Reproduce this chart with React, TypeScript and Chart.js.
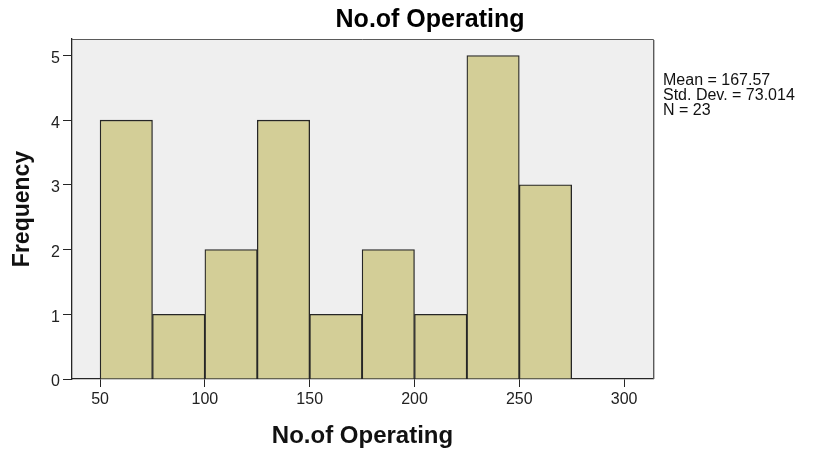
import React, { useEffect, useRef } from "react";
import { Chart, registerables } from "chart.js";

Chart.register(...registerables);

// ---- data ----
const binStarts = [50, 75, 100, 125, 150, 175, 200, 225, 250];
const binWidth = 25;
const frequencies = [4, 1, 2, 4, 1, 2, 1, 5, 3];
const xTicks = [50, 100, 150, 200, 250, 300];
const yTicks = [0, 1, 2, 3, 4, 5];
const statsLines = ["Mean = 167.57", "Std. Dev. = 73.014", "N = 23"];
const chartTitle = "No.of Operating";
const xTitle = "No.of Operating";
const yTitle = "Frequency";

const FONT = "'Liberation Sans', Arial, sans-serif";

const framePlugin = {
  id: "spssFrame",
  beforeDraw(chart: any) {
    const { ctx, chartArea } = chart;
    ctx.save();
    ctx.fillStyle = "#efefef";
    ctx.fillRect(chartArea.left, chartArea.top, chartArea.right - chartArea.left, chartArea.bottom - chartArea.top);
    ctx.restore();
  },
  afterDraw(chart: any) {
    const { ctx, chartArea } = chart;
    ctx.save();
    // top & right frame
    ctx.strokeStyle = "#5a5a5a";
    ctx.lineWidth = 1;
    ctx.beginPath();
    ctx.moveTo(chartArea.left, chartArea.top + 0.5);
    ctx.lineTo(chartArea.right + 0.5, chartArea.top + 0.5);
    ctx.lineTo(chartArea.right + 0.5, chartArea.bottom);
    ctx.stroke();
    ctx.strokeStyle = "#bdbdbd";
    ctx.beginPath();
    ctx.moveTo(chartArea.right + 1.5, chartArea.top + 1);
    ctx.lineTo(chartArea.right + 1.5, chartArea.bottom);
    ctx.stroke();

    // title
    ctx.fillStyle = "#000";
    ctx.font = `bold 25px ${FONT}`;
    ctx.textAlign = "center";
    ctx.textBaseline = "alphabetic";
    ctx.fillText(chartTitle, 430, 27);

    // stats
    ctx.font = `16px ${FONT}`;
    ctx.textAlign = "left";
    ctx.fillStyle = "#111";
    statsLines.forEach((s, i) => {
      ctx.fillText(s, chartArea.right + 10, 85 + i * 15);
    });
    ctx.restore();
  },
};

export default function App() {
  const ref = useRef<HTMLCanvasElement | null>(null);

  useEffect(() => {
    if (!ref.current) return;
    const points = binStarts.map((s, i) => ({ x: s + binWidth / 2, y: frequencies[i] }));
    const chart = new Chart(ref.current, {
      type: "bar",
      data: {
        datasets: [
          {
            data: points as any,
            backgroundColor: "#d3ce97",
            borderColor: "#262626",
            borderWidth: 1.3,
            borderSkipped: "bottom",
            categoryPercentage: 1,
            barPercentage: 1,
          },
        ],
      },
      options: {
        animation: false,
        responsive: true,
        maintainAspectRatio: false,
        layout: { padding: { top: 39, right: 161, left: 0, bottom: 0 } },
        plugins: {
          legend: { display: false },
          title: { display: false },
          tooltip: { enabled: false },
        },
        scales: {
          x: {
            type: "linear",
            min: 36.6,
            max: 313.8,
            offset: false,
            afterBuildTicks: (scale: any) => {
              scale.ticks = xTicks.map((v) => ({ value: v }));
            },
            afterFit: (scale: any) => {
              scale.height = 73;
            },
            grid: {
              display: true,
              offset: false,
              drawOnChartArea: false,
              drawTicks: true,
              tickLength: 8,
              tickColor: "#262626",
              color: "#262626",
            },
            border: { display: true, color: "#262626", width: 1.3 },
            ticks: {
              padding: 3.4,
              color: "#222",
              font: { family: FONT, size: 16 },
              maxRotation: 0,
              autoSkip: false,
            },
            title: {
              display: true,
              text: xTitle,
              color: "#111",
              font: { family: FONT, size: 24, weight: "bold", lineHeight: 1.2 },
              padding: { top: 0, bottom: 1.6 },
            },
          },
          y: {
            type: "linear",
            min: 0,
            max: 5.255,
            afterBuildTicks: (scale: any) => {
              scale.ticks = yTicks.map((v) => ({ value: v }));
            },
            afterFit: (scale: any) => {
              scale.width = 72;
            },
            grid: {
              display: true,
              offset: false,
              drawOnChartArea: false,
              drawTicks: true,
              tickLength: 9,
              tickColor: "#262626",
              color: "#262626",
            },
            border: { display: true, color: "#262626", width: 1.3 },
            ticks: {
              padding: 3,
              labelOffset: 3,
              color: "#222",
              font: { family: FONT, size: 16 },
              autoSkip: false,
            },
            title: {
              display: true,
              text: yTitle,
              color: "#111",
              font: { family: FONT, size: 23, weight: "bold", lineHeight: 1.2 },
              padding: { top: 8.7, bottom: 0 },
            },
          },
        },
      },
      plugins: [framePlugin],
    });
    return () => chart.destroy();
  }, []);

  return (
    <div style={{ position: "absolute", left: 0, top: 0, width: 814, height: 452 }}>
      <canvas ref={ref} />
    </div>
  );
}
